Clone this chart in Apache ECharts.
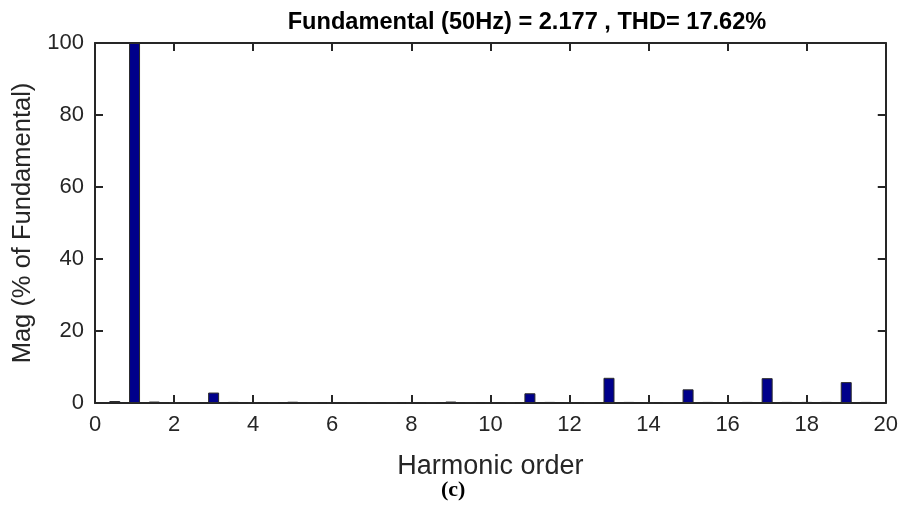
<!DOCTYPE html>
<html>
<head>
<meta charset="utf-8">
<script src="https://cdn.jsdelivr.net/npm/echarts@6/dist/echarts.min.js"></script>
<style>html,body{margin:0;padding:0;background:#fff;}#chart{width:901px;height:511px;}</style>
</head>
<body>
<div id="chart"></div>
<script>
const titleText = 'Fundamental (50Hz) = 2.177 , THD= 17.62%';
const xAxisTitle = 'Harmonic order';
const yAxisTitle = 'Mag (% of Fundamental)';
const caption = '(c)';
const xTicks = [0, 20, 2];
const yTicks = [0, 100, 20];
const harmonicOrders = [0.5,1,1.5,2,2.5,3,3.5,4,4.5,5,5.5,6,6.5,7,7.5,8,8.5,9,9.5,10,10.5,11,11.5,12,12.5,13,13.5,14,14.5,15,15.5,16,16.5,17,17.5,18,18.5,19,19.5];
const magnitudes = [0.55,100,0.4,0.15,0.25,2.9,0.3,0.1,0.25,0.35,0.1,0.1,0.15,0.25,0.1,0.1,0.15,0.4,0.1,0.1,0.25,2.7,0.3,0.1,0.15,7.0,0.3,0.1,0.15,3.8,0.3,0.15,0.3,6.9,0.3,0.3,0.3,5.8,0.3];

const axisColor = '#262626';
const font = 'Liberation Sans, Arial, sans-serif';
const chart = echarts.init(document.getElementById('chart'));
const baseAxis = (min, max, interval) => ({
  type: 'value', min: min, max: max, interval: interval,
  axisLine: { show: true, onZero: false, lineStyle: { color: axisColor, width: 2 } },
  axisTick: { show: true, inside: true, length: 8, lineStyle: { color: axisColor, width: 2 } },
  splitLine: { show: false }
});
chart.setOption({
  animation: false,
  backgroundColor: '#fff',
  title: {
    text: titleText, left: 522, top: 5, textAlign: 'center',
    textStyle: { fontFamily: font, fontSize: 23.6, fontWeight: 'bold', color: '#000' }
  },
  grid: { left: 95, right: 14, top: 43, bottom: 108 },
  xAxis: [
    Object.assign(baseAxis(xTicks[0], xTicks[1], xTicks[2]), {
      position: 'bottom',
      axisLabel: { fontFamily: font, fontSize: 22, color: axisColor, margin: 11 },
      name: xAxisTitle, nameLocation: 'middle', nameGap: 50,
      nameTextStyle: { fontFamily: font, fontSize: 27, color: axisColor }
    }),
    Object.assign(baseAxis(xTicks[0], xTicks[1], xTicks[2]), {
      position: 'top', axisLabel: { show: false }
    })
  ],
  yAxis: [
    Object.assign(baseAxis(yTicks[0], yTicks[1], yTicks[2]), {
      position: 'left',
      axisLabel: { fontFamily: font, fontSize: 22, color: axisColor, margin: 11 },
      name: yAxisTitle, nameLocation: 'middle', nameGap: 59, nameRotate: 90,
      nameTextStyle: { fontFamily: font, fontSize: 25.5, color: axisColor }
    }),
    Object.assign(baseAxis(yTicks[0], yTicks[1], yTicks[2]), {
      position: 'right', axisLabel: { show: false }
    })
  ],
  series: [{
    type: 'bar', xAxisIndex: 0, yAxisIndex: 0,
    barWidth: 11,
    data: harmonicOrders.map((h, i) => [h, magnitudes[i]]),
    itemStyle: { color: '#00008b', borderColor: '#2b2b2b', borderWidth: 1 }
  }],
  graphic: [{
    type: 'text', left: 441, top: 479,
    style: { text: caption, font: 'bold 22px "Liberation Serif", "Times New Roman", serif', fill: '#000' }
  }]
});
</script>
</body>
</html>
